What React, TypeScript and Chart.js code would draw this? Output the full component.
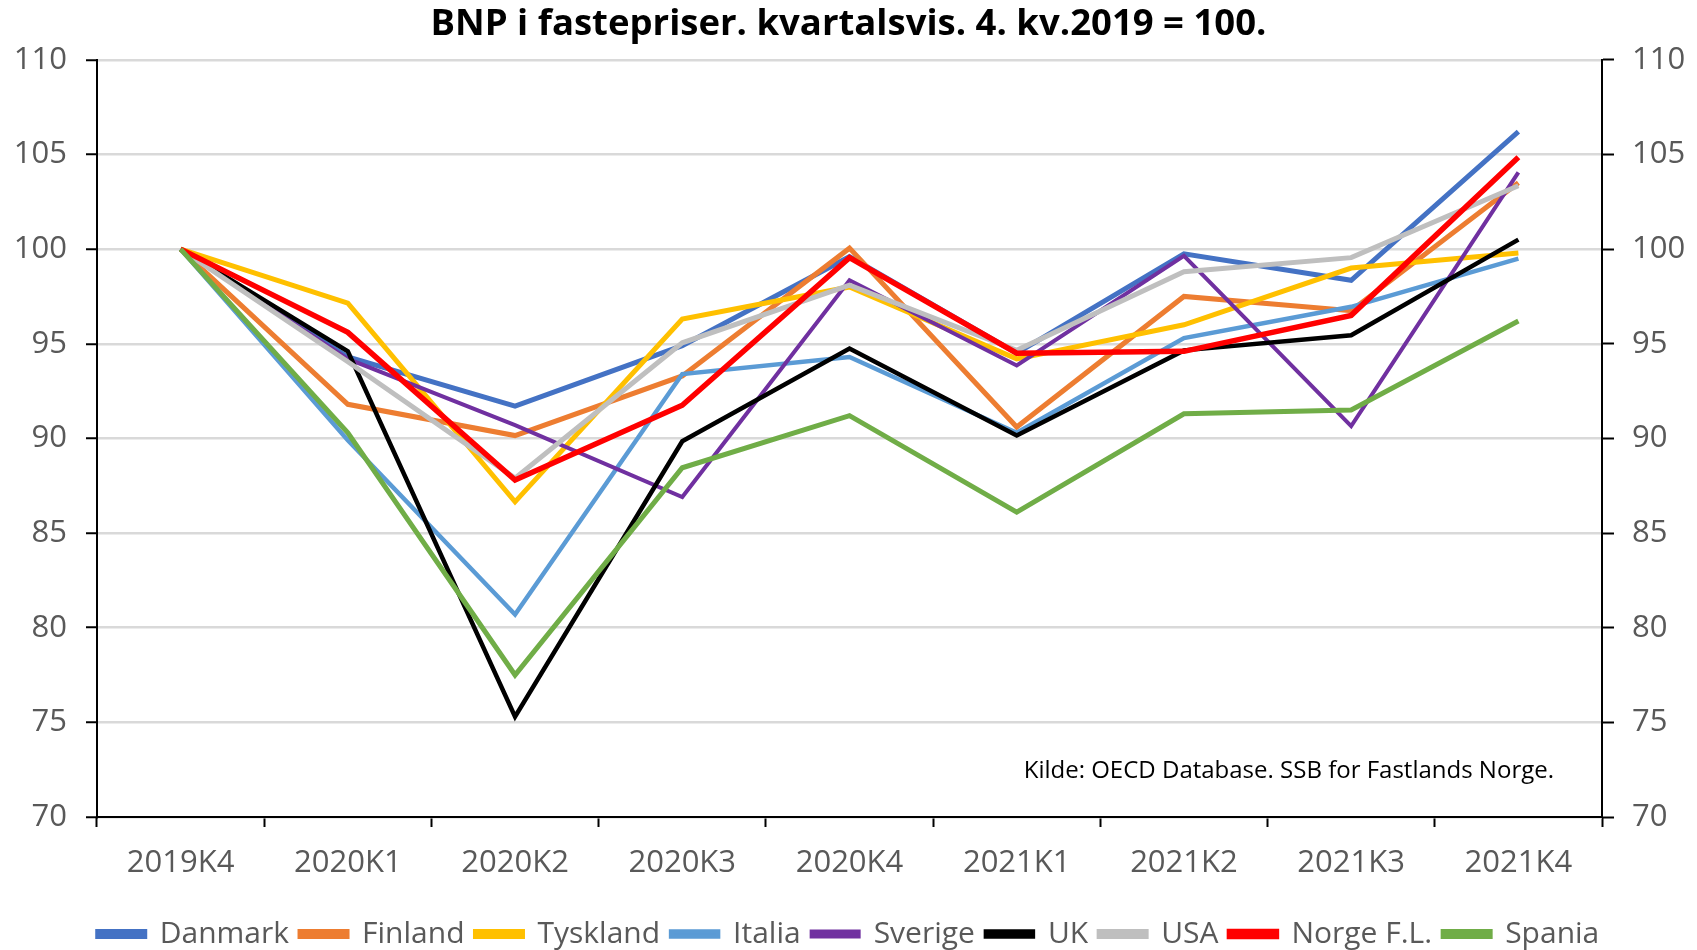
import React, { useEffect, useRef } from 'react';
import { Chart, registerables } from 'chart.js';
Chart.register(...registerables);

const categories = ['2019K4', '2020K1', '2020K2', '2020K3', '2020K4', '2021K1', '2021K2', '2021K3', '2021K4'];

const danmark = [100, 94.3, 91.7, 94.9, 99.6, 94.5, 99.75, 98.35, 106.2];
const finland = [100, 91.8, 90.15, 93.3, 100.05, 90.6, 97.5, 96.75, 103.5];
const tyskland = [100, 97.15, 86.65, 96.3, 98.0, 94.2, 96.0, 99.0, 99.8];
const italia = [100, 89.9, 80.7, 93.4, 94.3, 90.3, 95.3, 96.95, 99.5];
const sverige = [100, 94.2, 90.7, 86.9, 98.35, 93.85, 99.65, 90.65, 104.05];
const uk = [100, 94.6, 75.3, 89.85, 94.75, 90.15, 94.65, 95.45, 100.5];
const usa = [100, 94.05, 87.9, 95.05, 98.1, 94.65, 98.8, 99.55, 103.35];
const norge = [100, 95.6, 87.8, 91.75, 99.55, 94.5, 94.6, 96.5, 104.85];
const spania = [100, 90.3, 77.5, 88.45, 91.2, 86.1, 91.3, 91.5, 96.2];

const seriesNames = ['Danmark', 'Finland', 'Tyskland', 'Italia', 'Sverige', 'UK', 'USA', 'Norge F.L.', 'Spania'];
const seriesValues = [danmark, finland, tyskland, italia, sverige, uk, usa, norge, spania];
const seriesColors = ['#4472C4', '#ED7D31', '#FFC000', '#5B9BD5', '#7030A0', '#000000', '#BFBFBF', '#FF0000', '#70AD47'];
const seriesWidths = [5, 5, 5, 4.5, 4, 4.5, 5, 5.5, 5];

const titleText = 'BNP i fastepriser. kvartalsvis. 4. kv.2019 = 100.';
const sourceNote = 'Kilde: OECD Database. SSB for Fastlands Norge.';

export default function App() {
  const ref = useRef<HTMLCanvasElement>(null);
  useEffect(() => {
    if (!ref.current) return;
    Chart.defaults.font.family = '"Open Sans", sans-serif';
    const notePlugin = {
      id: 'sourceNote',
      afterDatasetsDraw(chart: any) {
        const { ctx, chartArea } = chart;
        ctx.save();
        ctx.font = '24px "Open Sans", sans-serif';
        ctx.fillStyle = '#000';
        ctx.textAlign = 'right';
        ctx.textBaseline = 'middle';
        ctx.fillText(sourceNote, chartArea.right - 48, chartArea.bottom - 46);
        ctx.restore();
      },
    };
    const n = seriesNames.length;
    const chart = new Chart(ref.current, {
      type: 'line',
      data: {
        labels: categories,
        datasets: seriesNames.map((name, i) => ({
          label: name,
          data: seriesValues[i],
          borderColor: seriesColors[i],
          backgroundColor: seriesColors[i],
          borderWidth: seriesWidths[i],
          pointRadius: 0,
          tension: 0,
          fill: false,
          borderJoinStyle: 'miter' as const,
          order: n - i,
        })),
      },
      options: {
        responsive: false,
        animation: false,
        devicePixelRatio: 1,
        layout: { padding: { left: 0, right: 0, top: 0, bottom: -9 } },
        plugins: {
          title: {
            display: true,
            text: titleText,
            color: '#000',
            font: { size: 36.5, weight: 'bold' },
            padding: { top: 3, bottom: 13 },
          },
          legend: {
            position: 'bottom',
            labels: {
              color: '#595959',
              font: { size: 30 },
              boxWidth: 47,
              boxHeight: 5,
              padding: 11,
              sort: (a: any, b: any) => a.datasetIndex - b.datasetIndex,
            },
          },
          tooltip: { enabled: false },
        },
        scales: {
          x: {
            type: 'category',
            offset: true,
            grid: {
              offset: true,
              drawOnChartArea: false,
              drawTicks: true,
              tickLength: 10,
              tickColor: '#000',
              tickWidth: 2,
              color: '#000',
            },
            border: { color: '#000', width: 2 },
            ticks: { color: '#595959', font: { size: 31 }, padding: 18, maxRotation: 0, autoSkip: false },
            afterFit(scale: any) { scale.height = 91; },
          },
          y: {
            position: 'left',
            min: 70,
            max: 110,
            ticks: { stepSize: 5, color: '#595959', font: { size: 31 }, padding: 19 },
            grid: { color: '#D9D9D9', lineWidth: 2.5, tickLength: 11, tickColor: '#000', tickWidth: 2 },
            border: { color: '#000', width: 2 },
            afterFit(scale: any) { scale.width = 97; },
          },
          y2: {
            position: 'right',
            min: 70,
            max: 110,
            ticks: { stepSize: 5, color: '#595959', font: { size: 31 }, padding: 18 },
            grid: { drawOnChartArea: false, tickLength: 12, tickColor: '#000', tickWidth: 2 },
            border: { color: '#000', width: 2 },
            afterFit(scale: any) { scale.width = 95; },
          },
        },
      },
      plugins: [notePlugin],
    });
    return () => chart.destroy();
  }, []);
  return (
    <div style={{ position: 'fixed', left: 0, top: 0, width: 1697, height: 950, background: '#fff' }}>
      <canvas ref={ref} width={1697} height={950} style={{ display: 'block', width: 1697, height: 950 }} />
    </div>
  );
}
